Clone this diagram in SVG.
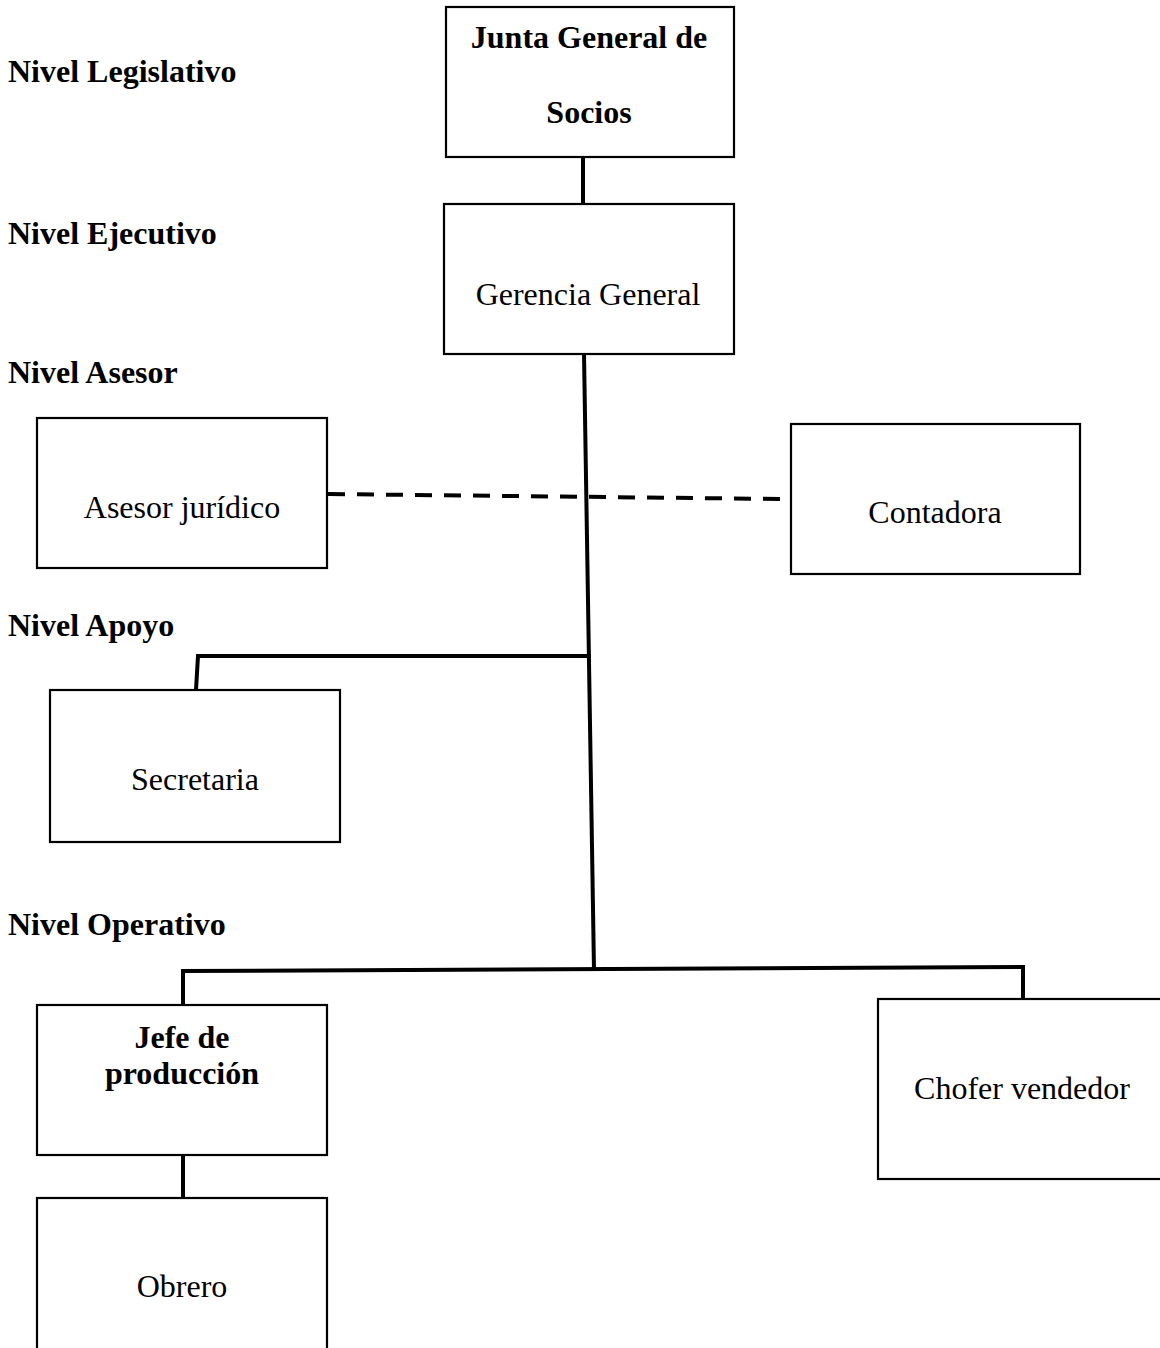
<svg xmlns="http://www.w3.org/2000/svg" width="1160" height="1348" viewBox="0 0 1160 1348">
<style>
  .box { fill: #ffffff; stroke: #000000; stroke-width: 2.2; }
  .t { font-family: "Liberation Serif", "Times New Roman", serif; font-size: 32px; fill: #000000; text-anchor: middle; }
  .b { font-weight: bold; }
  .lvl { font-family: "Liberation Serif", "Times New Roman", serif; font-size: 32px; font-weight: bold; fill: #000000; }
  .c { stroke: #000000; stroke-width: 4; fill: none; }
  .d { stroke: #000000; stroke-width: 4; fill: none; stroke-dasharray: 17 12; }
</style>
<rect x="0" y="0" width="1160" height="1348" fill="#ffffff"/>

<g id="levels">
  <text class="lvl" x="8" y="82">Nivel Legislativo</text>
  <text class="lvl" x="8" y="244">Nivel Ejecutivo</text>
  <text class="lvl" x="8" y="383">Nivel Asesor</text>
  <text class="lvl" x="8" y="636">Nivel Apoyo</text>
  <text class="lvl" x="8" y="935">Nivel Operativo</text>
</g>

<g id="connectors">
  <line class="c" x1="583" y1="157" x2="583" y2="204"/>
  <line class="c" x1="584" y1="354" x2="594" y2="970"/>
  <line class="d" x1="328" y1="494" x2="782" y2="499"/>
  <polyline class="c" points="196,690 198,656 591,656"/>
  <line class="c" x1="183" y1="971" x2="1025" y2="967"/>
  <line class="c" x1="183" y1="969" x2="183" y2="1005"/>
  <line class="c" x1="1023" y1="965" x2="1023" y2="999"/>
  <line class="c" x1="183" y1="1155" x2="183" y2="1198"/>
</g>

<g id="junta">
  <rect class="box" x="446" y="7" width="288" height="150"/>
  <text class="t b" x="589" y="48">Junta General de</text>
  <text class="t b" x="589" y="123">Socios</text>
</g>

<g id="gerencia">
  <rect class="box" x="444" y="204" width="290" height="150"/>
  <text class="t" x="588" y="305">Gerencia General</text>
</g>

<g id="asesor">
  <rect class="box" x="37" y="418" width="290" height="150"/>
  <text class="t" x="182" y="518">Asesor jurídico</text>
</g>

<g id="contadora">
  <rect class="box" x="791" y="424" width="289" height="150"/>
  <text class="t" x="935" y="523">Contadora</text>
</g>

<g id="secretaria">
  <rect class="box" x="50" y="690" width="290" height="152"/>
  <text class="t" x="195" y="790">Secretaria</text>
</g>

<g id="jefe">
  <rect class="box" x="37" y="1005" width="290" height="150"/>
  <text class="t b" x="182" y="1048">Jefe de</text>
  <text class="t b" x="182" y="1084">producción</text>
</g>

<g id="chofer">
  <rect class="box" x="878" y="999" width="300" height="180"/>
  <text class="t" x="1022" y="1099">Chofer vendedor</text>
</g>

<g id="obrero">
  <rect class="box" x="37" y="1198" width="290" height="170"/>
  <text class="t" x="182" y="1297">Obrero</text>
</g>
</svg>
